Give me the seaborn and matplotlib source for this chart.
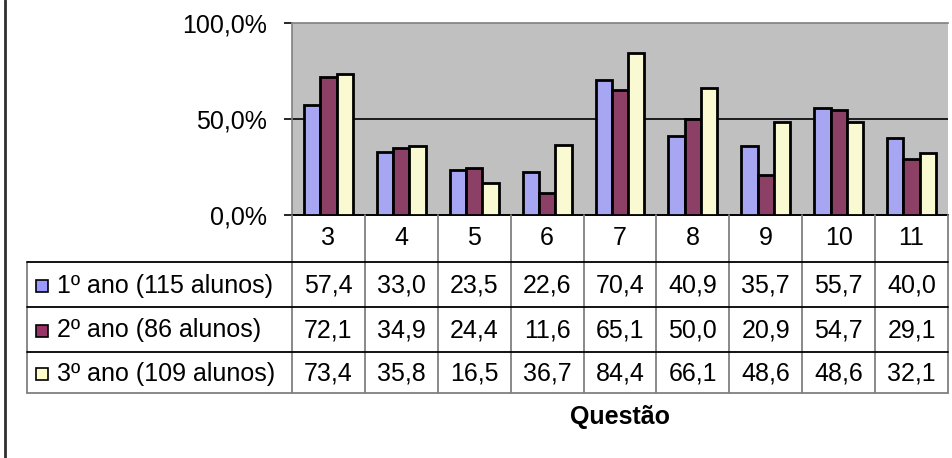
import matplotlib
matplotlib.use("Agg")
import matplotlib.pyplot as plt
from matplotlib.lines import Line2D
from matplotlib.patches import Rectangle
import pandas as pd
import seaborn as sns

questions = ["3", "4", "5", "6", "7", "8", "9", "10", "11"]
series_names = ["1º ano (115 alunos)", "2º ano (86 alunos)", "3º ano (109 alunos)"]
ano1 = [57.4, 33.0, 23.5, 22.6, 70.4, 40.9, 35.7, 55.7, 40.0]
ano2 = [72.1, 34.9, 24.4, 11.6, 65.1, 50.0, 20.9, 54.7, 29.1]
ano3 = [73.4, 35.8, 16.5, 36.7, 84.4, 66.1, 48.6, 48.6, 32.1]
colors = ["#9999FF", "#993366", "#FFFFCC"]
ytick_vals = [0.0, 0.5, 1.0]
ytick_labels = ["0,0%", "50,0%", "100,0%"]
xlabel = "Questão"

series_values = [ano1, ano2, ano3]
rows = []
for name, vals in zip(series_names, series_values):
    for q, v in zip(questions, vals):
        rows.append({"Questão": q, "Série": name, "valor": v / 100.0})
df = pd.DataFrame(rows)

sns.set_style("white")
plt.rcParams["font.family"] = ["Liberation Sans", "DejaVu Sans"]
plt.rcParams["text.color"] = "black"
plt.rcParams["ytick.color"] = "black"
plt.rcParams["ytick.labelcolor"] = "black"

W, H = 952, 458
fig = plt.figure(figsize=(W / 100, H / 100), dpi=100)

# plot area in pixel coordinates
x0, x1 = 292, 948
y_top, y_bot = 23, 215
ax = fig.add_axes([x0 / W, 1 - y_bot / H, (x1 - x0) / W, (y_bot - y_top) / H])
ax.set_facecolor("#C0C0C0")

sns.barplot(data=df, x="Questão", y="valor", hue="Série", order=questions,
            hue_order=series_names, palette=colors, width=0.67,
            edgecolor="black", linewidth=2.0, ax=ax, legend=False, zorder=3)

ax.set_ylim(0, 1)
ax.set_xlim(-0.5, len(questions) - 0.5)
ax.set_yticks(ytick_vals)
ax.set_yticklabels(ytick_labels, fontsize=18, color="black")
ax.tick_params(axis="y", length=6, width=1.2, color="black", pad=12, left=True)
ax.set_xticks([])
ax.set_xlabel("")
ax.set_ylabel("")
ax.axhline(0.5, color="black", linewidth=1.2, zorder=2)
for side in ["left", "top", "right"]:
    ax.spines[side].set_color("#808080")
    ax.spines[side].set_linewidth(1.2)
ax.spines["right"].set_visible(False)
ax.spines["bottom"].set_color("black")
ax.spines["bottom"].set_linewidth(1.4)


def fx(px):
    return px / W


def fy(py):
    return 1 - py / H


def hline(y, xa, xb, color, lw=1.3):
    fig.add_artist(Line2D([fx(xa), fx(xb)], [fy(y), fy(y)], color=color,
                          linewidth=lw, transform=fig.transFigure))


def vline(x, ya, yb, color, lw=1.3):
    fig.add_artist(Line2D([fx(x), fx(x)], [fy(ya), fy(yb)], color=color,
                          linewidth=lw, transform=fig.transFigure))


# data table under the plot
leg_x = 27
row_lines = [262, 307, 352, 393]
col_w = (x1 - x0) / len(questions)

for i in range(len(questions) + 1):
    vline(x0 + i * col_w, y_bot, row_lines[-1], "#808080")
vline(leg_x, row_lines[0], row_lines[-1], "#808080")
for k, y in enumerate(row_lines):
    hline(y, leg_x, x1, "black" if k < 3 else "#808080")

for i, q in enumerate(questions):
    fig.text(fx(x0 + (i + 0.5) * col_w), fy(238), q, ha="center", va="center",
             fontsize=18, color="black")

for r, (name, vals, c) in enumerate(zip(series_names, series_values, colors)):
    yc = (row_lines[r] + row_lines[r + 1]) / 2 + 1
    fig.add_artist(Rectangle((fx(36), fy(yc + 6)), 12 / W, 12 / H, facecolor=c,
                             edgecolor="black", linewidth=1.2,
                             transform=fig.transFigure))
    fig.text(fx(57), fy(yc), name, ha="left", va="center", fontsize=18,
             color="black")
    for i, v in enumerate(vals):
        fig.text(fx(x0 + (i + 0.5) * col_w), fy(yc),
                 f"{v:.1f}".replace(".", ","), ha="center", va="center",
                 fontsize=18, color="black")

fig.text(fx(620), fy(417), xlabel, ha="center", va="center", fontsize=18,
         fontweight="bold", color="black")

# chart frame edge on the left
vline(5, 0, H, "#303030", lw=2)

fig.savefig("out.png", dpi=100)
